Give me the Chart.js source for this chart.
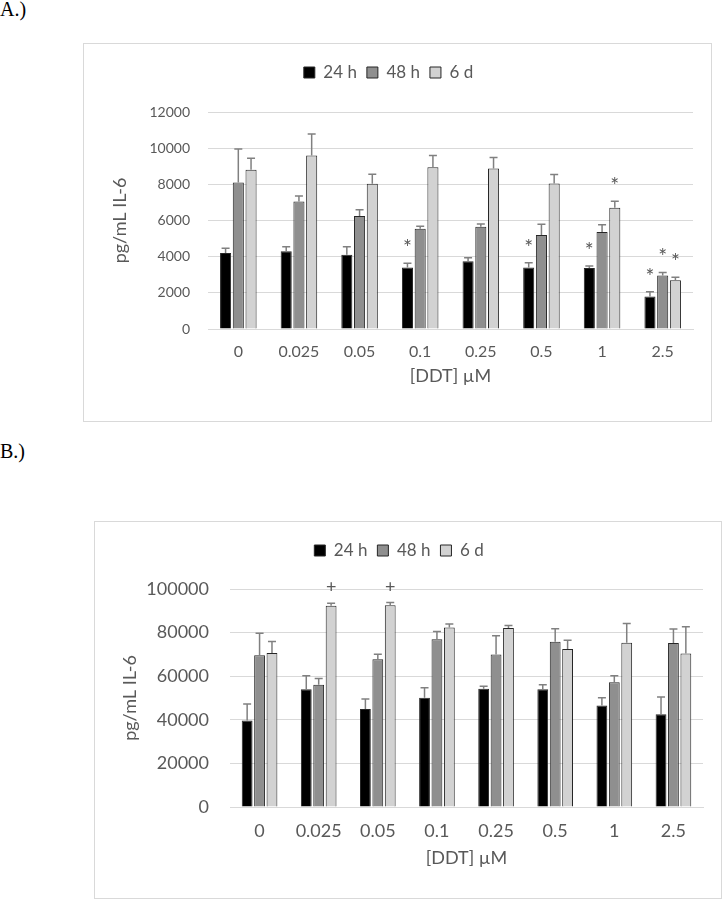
<!DOCTYPE html>
<html>
<head>
<meta charset="utf-8">
<script src="https://cdn.jsdelivr.net/npm/chart.js@4/dist/chart.umd.min.js"></script>
<style>
  html, body { margin: 0; padding: 0; background: #ffffff; }
  body { width: 724px; height: 900px; position: relative; overflow: hidden; }
  .panel-label { position: absolute; left: 0; font-family: "Liberation Serif", "Times New Roman", serif; font-size: 20px; line-height: 20px; color: #000; }
  .box { position: absolute; box-sizing: border-box; border: 1px solid #d9d9d9; background: #fff; }
  .box canvas { display: block; }
</style>
</head>
<body>
<div class="panel-label" style="top:-1px;">A.)</div>
<div class="box" id="boxA" style="left:83px; top:43px; width:629px; height:379px;"><canvas id="chartA" width="627" height="377"></canvas></div>
<div class="panel-label" style="top:441px;">B.)</div>
<div class="box" id="boxB" style="left:94px; top:521px; width:628px; height:378px;"><canvas id="chartB" width="626" height="376"></canvas></div>
<script>
// ---------- data ----------
const categories = ['0', '0.025', '0.05', '0.1', '0.25', '0.5', '1', '2.5'];
const seriesNames = ['24 h', '48 h', '6 d'];

// Panel A (pg/mL IL-6)
const h24A = [4200, 4300, 4100, 3400, 3750, 3400, 3380, 1800];
const h48A = [8100, 7050, 6250, 5550, 5650, 5200, 5360, 2960];
const d6A  = [8800, 9600, 8030, 8940, 8870, 8050, 6710, 2690];
const err24A = [270, 250, 450, 240, 190, 260, 110, 260];
const err48A = [1850, 310, 350, 130, 150, 590, 400, 170];
const err6A  = [640, 1180, 530, 660, 610, 500, 350, 170];
const sig24A = ['', '', '', '*', '', '*', '*', '*'];
const sig48A = ['', '', '', '', '', '', '', '*'];
const sig6A  = ['', '', '', '', '', '', '*', '*'];
const yTicksA = [0, 2000, 4000, 6000, 8000, 10000, 12000];

// Panel B (pg/mL IL-6)
const h24B = [39700, 54000, 44900, 50100, 54300, 54000, 46600, 42500];
const h48B = [69600, 56100, 67800, 77000, 69900, 75800, 57200, 75200];
const d6B  = [70600, 92300, 92600, 82300, 82100, 72500, 75300, 70400];
const err24B = [7500, 6200, 4600, 4600, 1100, 2100, 3500, 8000];
const err48B = [10100, 2900, 2300, 3500, 8700, 6000, 3000, 6400];
const err6B  = [5300, 1200, 1200, 1700, 1200, 4000, 8900, 12300];
const sig24B = ['', '', '', '', '', '', '', ''];
const sig48B = ['', '', '', '', '', '', '', ''];
const sig6B  = ['', '+', '+', '', '', '', '', ''];
const yTicksB = [0, 20000, 40000, 60000, 80000, 100000];

const yTitle = 'pg/mL IL-6';
const xTitle = '[DDT] \u00b5M';

// ---------- styling ----------
const FONT = 'Lato, "Open Sans", sans-serif';
const TXT = '#595959';
const fills = ['#000000', '#8f8f8f', '#d2d2d2'];

const errorBarsPlugin = {
  id: 'errorBars',
  afterDatasetsDraw(chart, args, opts) {
    const ctx = chart.ctx;
    const y = chart.scales.y;
    ctx.save();
    chart.data.datasets.forEach((ds, di) => {
      const meta = chart.getDatasetMeta(di);
      meta.data.forEach((bar, i) => {
        const v = ds.data[i], e = ds.errors[i];
        const yTop = y.getPixelForValue(v + e);
        const yBar = y.getPixelForValue(v);
        ctx.strokeStyle = '#808080';
        ctx.lineWidth = 1.5;
        ctx.beginPath();
        ctx.moveTo(bar.x, yBar);
        ctx.lineTo(bar.x, yTop);
        ctx.moveTo(bar.x - 4, yTop);
        ctx.lineTo(bar.x + 4, yTop);
        ctx.stroke();
        const mark = ds.marks[i];
        if (mark) {
          ctx.fillStyle = TXT;
          ctx.font = (mark === '*' ? '21px ' : '18px ') + FONT;
          ctx.textAlign = 'center';
          ctx.textBaseline = 'alphabetic';
          ctx.fillText(mark, bar.x, yTop - (mark === '*' ? 8 : 10));
        }
      });
    });
    ctx.restore();
  }
};

const legendGapPlugin = {
  id: 'legendGap',
  beforeLayout(chart, args, opts) {
    const lg = chart.legend;
    if (lg && !lg._gapPatched) {
      const fit = lg.fit;
      lg.fit = function () { fit.call(this); this.height += opts.extra; };
      lg._gapPatched = true;
    }
  }
};

function makeChart(id, s1, s2, s3, e1, e2, e3, m1, m2, m3, ticks, cfg) {
  const vals = [s1, s2, s3], errs = [e1, e2, e3], marks = [m1, m2, m3];
  const datasets = seriesNames.map((name, k) => ({
    label: name,
    data: vals[k],
    errors: errs[k],
    marks: marks[k],
    backgroundColor: fills[k],
    borderColor: '#262626',
    borderWidth: 1,
    categoryPercentage: 0.63,
    barPercentage: 0.87
  }));
  return new Chart(document.getElementById(id), {
    type: 'bar',
    data: { labels: categories, datasets },
    plugins: [errorBarsPlugin, legendGapPlugin],
    options: {
      responsive: false,
      animation: false,
      layout: { padding: { left: 0, right: 18, top: cfg.padTop, bottom: cfg.padBottom } },
      plugins: {
        legend: {
          display: true,
          position: 'top',
          labels: { boxWidth: 11, boxHeight: 11, padding: cfg.legendPad, color: TXT, font: { family: FONT, size: 17 } }
        },
        legendGap: { extra: cfg.legendExtra },
        tooltip: { enabled: false }
      },
      scales: {
        x: {
          afterFit(scale) { scale.height = cfg.xHeight; },
          grid: { display: false, drawTicks: false },
          border: { display: true, color: '#d9d9d9', width: 1 },
          ticks: { color: TXT, font: { family: FONT, size: cfg.xTickSize }, padding: cfg.xTickPad, maxRotation: 0 },
          title: { display: true, text: xTitle, color: TXT, font: { family: FONT, size: 18 }, padding: { top: 0, bottom: 0 } }
        },
        y: {
          min: 0,
          max: ticks[ticks.length - 1],
          afterBuildTicks(scale) { scale.ticks = ticks.map(v => ({ value: v })); },
          afterFit(scale) { scale.width = cfg.yWidth; },
          grid: { color: '#d9d9d9', lineWidth: 1, drawTicks: false },
          border: { display: false },
          ticks: { color: TXT, font: { family: FONT, size: cfg.yTickSize }, padding: cfg.yTickPad, callback: v => String(v) },
          title: { display: true, text: yTitle, color: TXT, font: { family: FONT, size: 18 }, padding: { top: cfg.yTitlePad, bottom: 0 } }
        }
      }
    }
  });
}

makeChart('chartA', h24A, h48A, d6A, err24A, err48A, err6A, sig24A, sig48A, sig6A, yTicksA, {
  padTop: 10, padBottom: 34, legendPad: 10, legendExtra: 21, xHeight: 58,
  xTickSize: 16, xTickPad: 13,
  yWidth: 124, yTickSize: 14, yTickPad: 18, yTitlePad: 25
});
makeChart('chartB', h24B, h48B, d6B, err24B, err48B, err6B, sig24B, sig48B, sig6B, yTicksB, {
  padTop: 10, padBottom: 29, legendPad: 10, legendExtra: 20, xHeight: 62,
  xTickSize: 18, xTickPad: 13,
  yWidth: 135, yTickSize: 18, yTickPad: 21, yTitlePad: 24
});
</script>
</body>
</html>
